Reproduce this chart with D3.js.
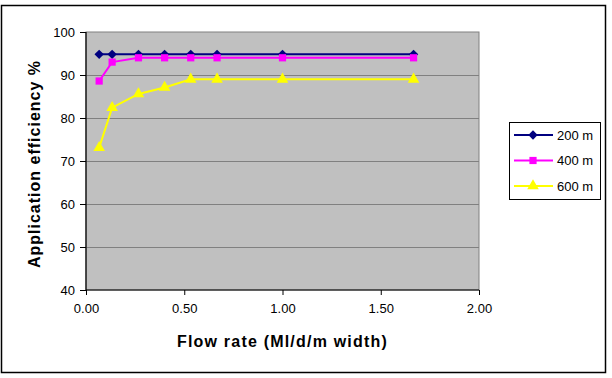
<!DOCTYPE html>
<html>
<head>
<meta charset="utf-8">
<script src="https://cdn.jsdelivr.net/npm/d3@7"></script>
<style>
  body { margin: 0; background: #fff; }
  svg text { font-family: "Liberation Sans", Arial, sans-serif; fill: #000; }
</style>
</head>
<body>
<svg id="chart" width="612" height="378"></svg>
<script>
	// flow rate (Ml/d/m width) and efficiency per run length
	var flowRate = [0.067, 0.133, 0.267, 0.4, 0.533, 0.667, 1.0, 1.667];
	var eff200 = [94.8, 94.8, 94.8, 94.8, 94.8, 94.8, 94.8, 94.8];
	var eff400 = [88.6, 93.0, 94.0, 94.0, 94.0, 94.0, 94.0, 94.0];
	var eff600 = [73.1, 82.4, 85.6, 87.1, 89.0, 89.0, 89.0, 89.0];
	var seriesNames = ['200 m', '400 m', '600 m'];
	var xTicks = [0, 0.5, 1, 1.5, 2];
	var yTicks = [40, 50, 60, 70, 80, 90, 100];

	// diamond = square turned 45deg (d3's own diamond is too narrow)
	var series = [
		{ name: seriesNames[0], values: eff200, color: '#000080', symbol: d3.symbolSquare, size: 44, rot: 45 },
		{ name: seriesNames[1], values: eff400, color: '#FF00FF', symbol: d3.symbolSquare, size: 52, rot: 0 },
		{ name: seriesNames[2], values: eff600, color: '#FFFF00', symbol: d3.symbolTriangle, size: 58, rot: 0 }
	];

	var svg = d3.select('#chart');
	var plot = { left: 86, top: 32, right: 479, bottom: 290 };

	var x = d3.scaleLinear().domain([0, 2]).range([plot.left, plot.right]);
	var y = d3.scaleLinear().domain([40, 100]).range([plot.bottom, plot.top]);

	// outer frame
	svg.append('rect')
		.attr('x', 1.5).attr('y', 5.5)
		.attr('width', 604).attr('height', 367)
		.attr('fill', '#fff')
		.attr('stroke', '#000').attr('stroke-width', 1.5);

	// plot area
	svg.append('rect')
		.attr('x', plot.left).attr('y', plot.top)
		.attr('width', plot.right - plot.left).attr('height', plot.bottom - plot.top)
		.attr('fill', '#C0C0C0')
		.attr('stroke', '#808080');

	// gridlines
	svg.append('g').selectAll('line')
		.data(yTicks.slice(1, -1))
		.enter().append('line')
		.attr('x1', plot.left).attr('x2', plot.right)
		.attr('y1', function (d) { return Math.round(y(d)) + 0.5; })
		.attr('y2', function (d) { return Math.round(y(d)) + 0.5; })
		.attr('stroke', '#808080');

	// axes
	var xAxis = d3.axisBottom(x).tickValues(xTicks).tickSize(5).tickPadding(9)
		.tickFormat(d3.format('.2f'));
	var yAxis = d3.axisLeft(y).tickValues(yTicks).tickSize(6).tickPadding(5);

	var gx = svg.append('g').attr('transform', 'translate(0,' + plot.bottom + ')').call(xAxis);
	var gy = svg.append('g').attr('transform', 'translate(' + plot.left + ',0)').call(yAxis);
	[gx, gy].forEach(function (g) {
		g.select('.domain').attr('stroke', '#000').attr('stroke-width', 1.2);
		g.selectAll('.tick line').attr('stroke', '#000');
		g.selectAll('.tick text')
			.style('font-family', '"Liberation Sans", Arial, sans-serif')
			.style('font-size', '13px').attr('fill', '#000');
	});
	gy.select('.domain').attr('d', 'M0,' + plot.bottom + 'V' + plot.top);
	gx.select('.domain').attr('d', 'M' + plot.left + ',0H' + plot.right);

	// lines and markers
	var line = d3.line()
		.x(function (d, i) { return x(flowRate[i]); })
		.y(function (d) { return y(d); });

	series.forEach(function (s) {
		svg.append('path')
			.datum(s.values)
			.attr('d', line)
			.attr('fill', 'none')
			.attr('stroke', s.color)
			.attr('stroke-width', 2);
		svg.append('g').selectAll('path')
			.data(s.values)
			.enter().append('path')
			.attr('transform', function (d, i) {
				return 'translate(' + x(flowRate[i]) + ',' + y(d) + ') rotate(' + s.rot + ')';
			})
			.attr('d', d3.symbol().type(s.symbol).size(s.size))
			.attr('fill', s.color);
	});

	// axis titles
	svg.append('text')
		.attr('x', (plot.left + plot.right) / 2).attr('y', 347)
		.attr('text-anchor', 'middle')
		.style('font-size', '16px').style('font-weight', 'bold')
		.style('letter-spacing', '1.2px')
		.text('Flow rate (Ml/d/m width)');

	svg.append('text')
		.attr('transform', 'translate(40,' + ((plot.top + plot.bottom) / 2 + 3) + ') rotate(-90)')
		.attr('text-anchor', 'middle')
		.style('font-size', '16px').style('font-weight', 'bold')
		.style('letter-spacing', '1px')
		.text('Application efficiency %');

	// legend
	var legend = svg.append('g').attr('transform', 'translate(509,122)');
	legend.append('rect')
		.attr('x', 0.5).attr('y', 0.5)
		.attr('width', 91).attr('height', 77)
		.attr('fill', '#fff').attr('stroke', '#000');
	var item = legend.selectAll('.item')
		.data(series)
		.enter().append('g')
		.attr('transform', function (d, i) { return 'translate(0,' + (13 + i * 25.5) + ')'; });
	item.append('line')
		.attr('x1', 5).attr('x2', 44)
		.attr('stroke', function (d) { return d.color; })
		.attr('stroke-width', 2);
	item.append('path')
		.attr('transform', function (d) { return 'translate(24,0) rotate(' + d.rot + ')'; })
		.attr('d', function (d) { return d3.symbol().type(d.symbol).size(d.size)(); })
		.attr('fill', function (d) { return d.color; });
	item.append('text')
		.attr('x', 48).attr('dy', '0.35em')
		.style('font-size', '13px')
		.text(function (d) { return d.name; });
</script>
</body>
</html>
